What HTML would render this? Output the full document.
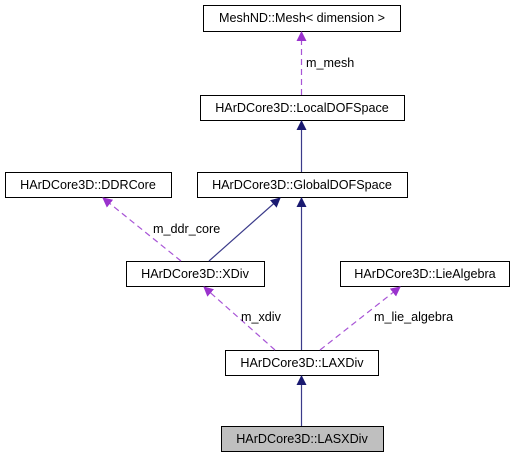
<!DOCTYPE html>
<html><head><meta charset="utf-8"><style>
html,body{margin:0;padding:0;background:#fff;width:515px;height:457px;overflow:hidden}
svg text{font-family:"Liberation Sans",Arial,sans-serif;font-size:12.6px;fill:#000}
</style></head><body>
<svg width="515" height="457" viewBox="0 0 515 457" xmlns="http://www.w3.org/2000/svg">
<defs>
<marker id="b" markerWidth="10" markerHeight="10" refX="9" refY="5" orient="auto" markerUnits="userSpaceOnUse"><path d="M0,0 L10,5 L0,10 z" fill="#191970"/></marker>
<marker id="p" markerWidth="10" markerHeight="10" refX="9" refY="5" orient="auto" markerUnits="userSpaceOnUse"><path d="M0,0 L10,5 L0,10 z" fill="#9a32cd"/></marker>
</defs>
<g fill="#fff" stroke="#000" stroke-width="1">
<rect x="203.5" y="5.5" width="197" height="26"/>
<rect x="200.5" y="95.5" width="204" height="25"/>
<rect x="5.5" y="172.5" width="166" height="25"/>
<rect x="197.5" y="172.5" width="210" height="25"/>
<rect x="126.5" y="261.5" width="138" height="25"/>
<rect x="340.5" y="261.5" width="169" height="25"/>
<rect x="225.5" y="350.5" width="153" height="25"/>
<rect x="221.5" y="426.5" width="162" height="25" fill="#bfbfbf"/>
</g>
<g text-anchor="middle">
<text x="302" y="22">MeshND::Mesh&lt; dimension &gt;</text>
<text x="302" y="112">HArDCore3D::LocalDOFSpace</text>
<text x="88" y="189">HArDCore3D::DDRCore</text>
<text x="302" y="189">HArDCore3D::GlobalDOFSpace</text>
<text x="195" y="278">HArDCore3D::XDiv</text>
<text x="425" y="278">HArDCore3D::LieAlgebra</text>
<text x="302" y="367">HArDCore3D::LAXDiv</text>
<text x="302" y="443">HArDCore3D::LASXDiv</text>
</g>
<g stroke="#3b3b8a" stroke-width="1.2" fill="none">
<line x1="301.5" y1="172" x2="301.5" y2="121" marker-end="url(#b)"/>
<line x1="209" y1="261" x2="280" y2="198" marker-end="url(#b)"/>
<line x1="301.5" y1="350" x2="301.5" y2="198" marker-end="url(#b)"/>
<line x1="301.5" y1="426" x2="301.5" y2="376" marker-end="url(#b)"/>
</g>
<g stroke="#a855d6" stroke-width="1.2" fill="none" stroke-dasharray="6,4">
<line x1="301.5" y1="95" x2="301.5" y2="32" marker-end="url(#p)"/>
<line x1="181" y1="261" x2="103" y2="198" marker-end="url(#p)"/>
<line x1="275" y1="350" x2="204" y2="287" marker-end="url(#p)"/>
<line x1="320" y1="350" x2="400" y2="287" marker-end="url(#p)"/>
</g>
<text x="306" y="67">m_mesh</text>
<text x="153" y="233">m_ddr_core</text>
<text x="241" y="321">m_xdiv</text>
<text x="374" y="321">m_lie_algebra</text>
</svg>
</body></html>
